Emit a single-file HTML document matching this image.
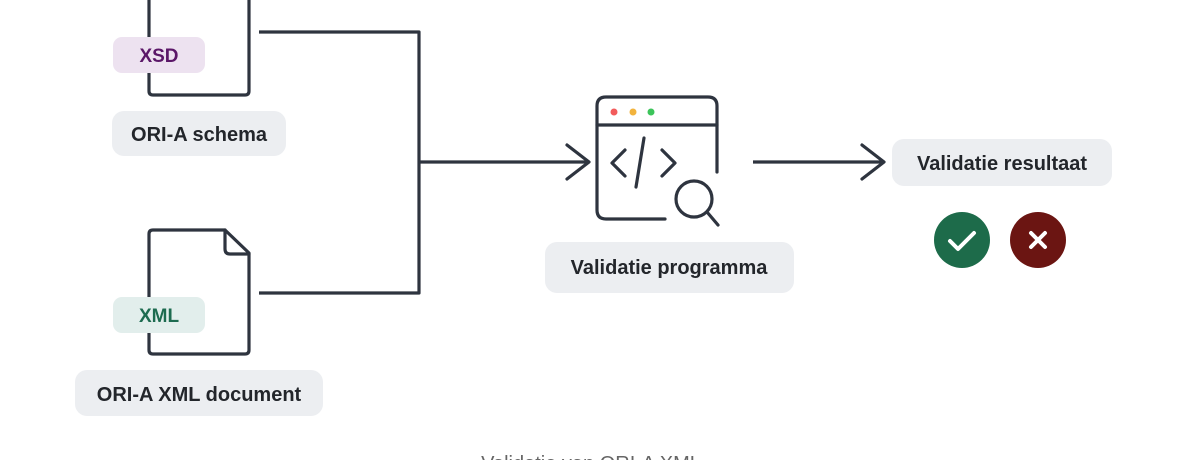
<!DOCTYPE html>
<html><head><meta charset="utf-8"><style>
html,body{margin:0;padding:0;background:#fff;width:1198px;height:460px;overflow:hidden}
svg text{font-family:"Liberation Sans",sans-serif;font-weight:bold}
</style></head><body>
<svg width="1198" height="460" viewBox="0 0 1198 460" xmlns="http://www.w3.org/2000/svg">
<g fill="none" stroke="#2e343f" stroke-width="3.2" stroke-linecap="round" stroke-linejoin="round">
<path d="M149,-10 V91 Q149,95 153,95 H245 Q249,95 249,91 V-10"/>
<path d="M225,230 H153 Q149,230 149,234 V350 Q149,354 153,354 H245 Q249,354 249,350 V253 Z"/>
<path d="M225,230 V249 Q225,254 230,254 H249"/>
<path d="M259,32 H419 V293 H259" stroke-linecap="butt"/>
<path d="M419,162 H588" stroke-linecap="butt"/>
<path d="M567,145 L589,162 L567,179"/>
<path d="M753,162 H882" stroke-linecap="butt"/>
<path d="M862,145 L884,162 L862,179"/>
<path d="M665,219 H606 Q597,219 597,210 V106 Q597,97 606,97 H708 Q717,97 717,106 V172"/>
<path d="M597,125 H717"/>
<path d="M625,150 L612,163 L625,176"/>
<path d="M644,138 L636,187"/>
<path d="M662,150 L675,163 L662,176"/>
<circle cx="694" cy="199" r="18"/>
<path d="M707,212 L718,225"/>
</g>
<circle cx="614" cy="112" r="3.5" fill="#f25b5b"/>
<circle cx="633" cy="112" r="3.5" fill="#f2b33d"/>
<circle cx="651" cy="112" r="3.5" fill="#3cc45a"/>
<rect x="113" y="37" width="92" height="36" rx="9" fill="#ede2f0"/>
<text x="159" y="62" text-anchor="middle" font-size="19" fill="#5b1768">XSD</text>
<rect x="112" y="111" width="174" height="45" rx="12" fill="#eceef1"/>
<text x="199" y="141" text-anchor="middle" font-size="20" fill="#23262b">ORI-A schema</text>
<rect x="113" y="297" width="92" height="36" rx="9" fill="#e2eeec"/>
<text x="159" y="322" text-anchor="middle" font-size="19" fill="#1d6b50">XML</text>
<rect x="75" y="370" width="248" height="46" rx="12" fill="#eceef1"/>
<text x="199" y="401" text-anchor="middle" font-size="20" fill="#23262b">ORI-A XML document</text>
<rect x="545" y="242" width="249" height="51" rx="12" fill="#eceef1"/>
<text x="669" y="274" text-anchor="middle" font-size="20" fill="#23262b">Validatie programma</text>
<rect x="892" y="139" width="220" height="47" rx="12" fill="#eceef1"/>
<text x="1002" y="170" text-anchor="middle" font-size="20" fill="#23262b">Validatie resultaat</text>
<circle cx="962" cy="240" r="28" fill="#1d6b4a"/>
<path d="M950,241 L958,249 L974,233" fill="none" stroke="#fff" stroke-width="4" stroke-linecap="round" stroke-linejoin="round"/>
<circle cx="1038" cy="240" r="28" fill="#6b1512"/>
<path d="M1031,233 L1045,247 M1045,233 L1031,247" fill="none" stroke="#fff" stroke-width="4" stroke-linecap="round"/>
<text x="591" y="470" text-anchor="middle" font-size="20" fill="#666" style="font-weight:normal">Validatie van ORI-A XML</text>
</svg>
</body></html>
